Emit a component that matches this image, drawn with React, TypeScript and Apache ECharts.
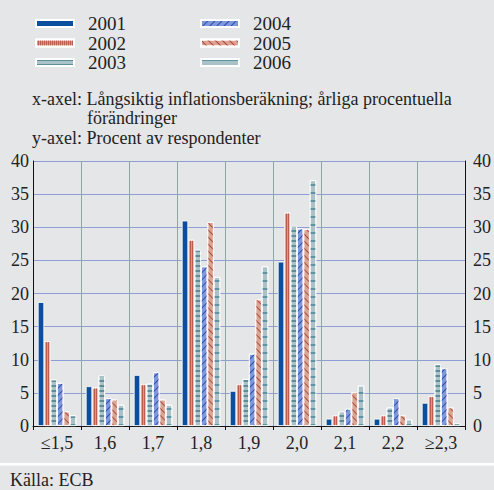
import React, { useEffect, useRef } from "react";
import * as echarts from "echarts";

const categories = ["≤1,5", "1,6", "1,7", "1,8", "1,9", "2,0", "2,1", "2,2", "≥2,3"];
const years = ["2001", "2002", "2003", "2004", "2005", "2006"];
const v2001 = [18.7, 6.0, 7.7, 31.0, 5.3, 24.8, 1.1, 1.1, 3.5];
const v2002 = [12.8, 5.8, 6.3, 28.1, 6.3, 32.2, 1.6, 1.6, 4.5];
const v2003 = [7.0, 7.6, 6.4, 26.6, 7.1, 30.2, 2.2, 2.8, 9.3];
const v2004 = [6.5, 4.2, 8.1, 24.1, 10.9, 29.8, 2.6, 4.2, 8.7];
const v2005 = [2.2, 4.0, 4.0, 30.8, 19.1, 29.7, 5.1, 1.6, 2.8];
const v2006 = [1.6, 3.2, 3.2, 22.5, 24.1, 37.1, 6.1, 1.0, 0.4];
const yTicks = [0, 5, 10, 15, 20, 25, 30, 35, 40];

const FONT = "Liberation Serif";

export default function App() {
  const ref = useRef<HTMLDivElement>(null);
  useEffect(() => {
    if (!ref.current) return;
    const chart = echarts.init(ref.current, undefined, { renderer: "svg" });
    const values = [v2001, v2002, v2003, v2004, v2005, v2006];
    const styles: any[] = [
      { color: "#0a4f9e" },
      {
        color: "#d8968a",
        decal: { symbol: "rect", symbolSize: 1, color: "#bb5e50", dashArrayX: [1, 1], dashArrayY: [1, 0], rotation: 0 },
      },
      {
        color: "#abc3c8",
        decal: { symbol: "rect", symbolSize: 1, color: "#5a8e99", dashArrayX: [1, 0], dashArrayY: [1.2, 2.4], rotation: 0 },
      },
      {
        color: "#7f98dc",
        decal: { symbol: "rect", symbolSize: 1, color: "#2d50b0", dashArrayX: [1, 0], dashArrayY: [0.8, 4], rotation: -Math.PI / 4 },
      },
      {
        color: "#dca292",
        decal: { symbol: "rect", symbolSize: 1, color: "#b04a40", dashArrayX: [1, 0], dashArrayY: [0.8, 4], rotation: Math.PI / 4 },
      },
      {
        color: "#a8c2c7",
        decal: { symbol: "rect", symbolSize: 1, color: "#5f95a0", dashArrayX: [1, 0], dashArrayY: [1.2, 5.5], rotation: 0 },
      },
    ];
    const series = years.map((y, i) => ({
      name: y,
      type: "bar",
      data: values[i],
      barGap: "0%",
      barCategoryGap: "20%",
      itemStyle: { ...styles[i], borderColor: "#ffffff", borderWidth: 0.8 },
      emphasis: { disabled: true },
    }));
    const legendCommon = {
      orient: "vertical",
      icon: "rect",
      itemWidth: 38,
      itemHeight: 7,
      itemGap: 0.5,
      top: 9,
      textStyle: { fontFamily: FONT, fontSize: 19, color: "#222", lineHeight: 18, padding: [0, 0, 0, 9] },
    };
    const txt = (text: string, left: number, top: number) => ({
      type: "text",
      left,
      top,
      style: { text, font: `18px "${FONT}"`, fill: "#222", lineHeight: 18 },
    });
    chart.setOption({
      animation: false,
      backgroundColor: "#e5e6e8",
      textStyle: { fontFamily: FONT },
      legend: [
        { ...legendCommon, left: 30, data: years.slice(0, 3) },
        { ...legendCommon, left: 195, data: years.slice(3) },
      ],
      grid: { left: 33, right: 29, top: 161, bottom: 64, containLabel: false },
      xAxis: {
        type: "category",
        data: categories,
        offset: 3,
        axisLine: { lineStyle: { color: "#111", width: 1 } },
        axisTick: { show: true, length: 4, lineStyle: { color: "#111" } },
        axisLabel: { fontFamily: FONT, fontSize: 18, color: "#222", margin: 5 },
        splitLine: { show: true, lineStyle: { color: "#8e9dd8", width: 1 } },
      },
      yAxis: [
        {
          type: "value",
          min: 0,
          max: 40,
          interval: 5,
          position: "left",
          axisLine: { show: true, lineStyle: { color: "#111", width: 1 } },
          axisTick: { show: false },
          axisLabel: {
            fontFamily: FONT,
            fontSize: 18,
            color: "#222",
            margin: 4,
            formatter: (v: number) => (yTicks.includes(v) ? String(v) : ""),
          },
          splitLine: { show: true, lineStyle: { color: "#8e9dd8", width: 1 } },
        },
        {
          type: "value",
          min: 0,
          max: 40,
          interval: 5,
          position: "right",
          axisLine: { show: true, lineStyle: { color: "#111", width: 1 } },
          axisTick: { show: false },
          axisLabel: { fontFamily: FONT, fontSize: 18, color: "#222", margin: 8 },
          splitLine: { show: false },
        },
      ],
      series,
      graphic: [
        txt("x-axel: Långsiktig inflationsberäkning; årliga procentuella", 32, 90),
        txt("förändringer", 87, 109),
        txt("y-axel: Procent av respondenter", 32, 129),
        {
          type: "rect",
          shape: { x: 0, y: 463, width: 494, height: 2.5 },
          style: { fill: "#ffffff" },
        },
        txt("Källa: ECB", 10, 471),
      ],
    });
    return () => chart.dispose();
  }, []);
  return (
    <div
      ref={ref}
      style={{ position: "fixed", left: 0, top: 0, width: 494, height: 490 }}
    />
  );
}
